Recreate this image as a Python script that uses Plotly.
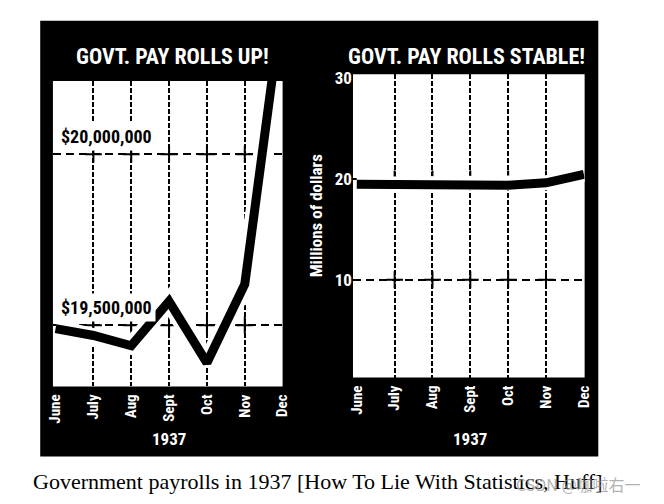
import plotly.graph_objects as go

# ---------------- data ----------------
months = ["June", "July", "Aug", "Sept", "Oct", "Nov", "Dec"]
payroll_millions = [19.49, 19.47, 19.44, 19.57, 19.39, 19.62, 20.45]
grid_months = ["July", "Aug", "Sept", "Oct", "Nov"]
left_ref_values = [19.5, 20.0]
left_ref_labels = ["$19,500,000", "$20,000,000"]
right_grid_values = [10, 20]
right_tick_values = [10, 20, 30]
year_label = "1937"
titles = ["GOVT. PAY ROLLS UP!", "GOVT. PAY ROLLS STABLE!"]
right_axis_title = "Millions of dollars"
caption = "Government payrolls in 1937 [How To Lie With Statistics, Huff]"
watermark = "CSDN @咖啦右一"

# ---------------- helpers ----------------
W, H = 664, 504
COND = ("Roboto Condensed, Noto Sans Condensed, Noto Sans ExtraCondensed, "
        "DejaVu Sans Condensed, Liberation Sans Narrow, Noto Sans, sans-serif")

def px(x):
    return x / W

def py(y):
    return 1 - y / H

def cfont(size, color="white"):
    return dict(family=COND, size=size, color=color, weight="bold")

x_idx = list(range(len(months)))
grid_idx = [months.index(m) for m in grid_months]

fig = go.Figure()

# small crosses where the dashed grid lines meet
for xa, ya, vals in [("x", "y", left_ref_values), ("x2", "y2", right_grid_values)]:
    cx = [g for v in vals for g in grid_idx]
    cy = [v for v in vals for g in grid_idx]
    fig.add_trace(go.Scatter(x=cx, y=cy, mode="markers", xaxis=xa, yaxis=ya,
                             marker=dict(symbol="cross-thin", size=12,
                                         line=dict(color="black", width=2)),
                             hoverinfo="skip", showlegend=False))

# left chart: white halo + thick black line
fig.add_trace(go.Scatter(x=x_idx, y=payroll_millions, mode="lines",
                         line=dict(color="white", width=18),
                         xaxis="x", yaxis="y", hoverinfo="skip", showlegend=False))
fig.add_trace(go.Scatter(x=x_idx, y=payroll_millions, mode="lines",
                         line=dict(color="black", width=9),
                         xaxis="x", yaxis="y", showlegend=False))
# right chart
fig.add_trace(go.Scatter(x=x_idx, y=payroll_millions, mode="lines",
                         line=dict(color="white", width=15),
                         xaxis="x2", yaxis="y2", hoverinfo="skip", showlegend=False))
fig.add_trace(go.Scatter(x=x_idx, y=payroll_millions, mode="lines",
                         line=dict(color="black", width=9),
                         xaxis="x2", yaxis="y2", showlegend=False))
# dummy traces for label (overlay) axes
fig.add_trace(go.Scatter(x=[None], y=[None], xaxis="x3", yaxis="y", showlegend=False, hoverinfo="skip"))
fig.add_trace(go.Scatter(x=[None], y=[None], xaxis="x4", yaxis="y2", showlegend=False, hoverinfo="skip"))
fig.add_trace(go.Scatter(x=[None], y=[None], xaxis="x2", yaxis="y4", showlegend=False, hoverinfo="skip"))

L_X = (48, 283)
L_Y = (76, 385)
R_X = (355, 592)
R_Y = (69, 376)
left_dom_x = [px(L_X[0]), px(L_X[1])]
left_dom_y = [py(L_Y[1]), py(L_Y[0])]
right_dom_x = [px(R_X[0]), px(R_X[1])]
right_dom_y = [py(R_Y[1]), py(R_Y[0])]

left_xrange = [-0.07, 6.0]
right_xrange = [-0.1, 6.02]
left_yrange = [19.321, 20.214]
right_yrange = [0.3, 30.4]

vgrid = dict(showgrid=True, gridcolor="black", gridwidth=2, griddash="5px,2px",
             zeroline=False, showline=False, showticklabels=False, ticks="")
hgrid = dict(showgrid=True, gridcolor="black", gridwidth=2, griddash="8px,5px",
             zeroline=False, showline=False, showticklabels=False, ticks="")

month_font = cfont(15)

fig.update_layout(
    width=W, height=H,
    margin=dict(l=0, r=0, t=0, b=0),
    paper_bgcolor="white",
    plot_bgcolor="rgba(0,0,0,0)",
    showlegend=False,
    xaxis=dict(domain=left_dom_x, anchor="y", range=left_xrange, tickvals=grid_idx, **vgrid),
    yaxis=dict(domain=left_dom_y, anchor="x", range=left_yrange, tickvals=left_ref_values, **hgrid),
    xaxis2=dict(domain=right_dom_x, anchor="y2", range=right_xrange, tickvals=grid_idx, **vgrid),
    yaxis2=dict(domain=right_dom_y, anchor="x2", range=right_yrange, tickvals=right_grid_values, **hgrid),
    xaxis3=dict(overlaying="x", anchor="y", side="bottom", range=left_xrange, type="linear",
                tickvals=x_idx, ticktext=months, tickangle=-90, tickfont=month_font,
                showgrid=False, zeroline=False, showline=False,
                ticks="outside", ticklen=1, tickcolor="black"),
    xaxis4=dict(overlaying="x2", anchor="y2", side="bottom", range=right_xrange, type="linear",
                tickvals=x_idx, ticktext=months, tickangle=-90, tickfont=month_font,
                showgrid=False, zeroline=False, showline=False,
                ticks="outside", ticklen=1, tickcolor="black"),
    yaxis4=dict(overlaying="y2", anchor="x2", side="left", range=right_yrange, type="linear",
                tickvals=right_tick_values, tickfont=cfont(17),
                showgrid=False, zeroline=False, showline=False, ticks=""),
)

# black panel, then white plotting areas
fig.add_shape(type="rect", xref="paper", yref="paper",
              x0=px(35), x1=px(606), y0=py(456), y1=py(15),
              fillcolor="black", line=dict(width=0), layer="below")
for (x0, x1), (y0, y1) in [(L_X, L_Y), (R_X, R_Y)]:
    fig.add_shape(type="rect", xref="paper", yref="paper",
                  x0=px(x0), x1=px(x1), y0=py(y1), y1=py(y0),
                  fillcolor="white", line=dict(width=0), layer="below")

ann = []
# titles
for t, cx in zip(titles, [170, 471]):
    ann.append(dict(text=t, xref="paper", yref="paper", x=px(cx), y=py(51),
                    xanchor="center", yanchor="middle", showarrow=False,
                    font=cfont(22)))
# reference labels on left chart
for v, lab in zip(left_ref_values, left_ref_labels):
    ann.append(dict(text=lab, xref="paper", yref="y", x=px(52), y=v,
                    xanchor="left", yanchor="bottom", yshift=3, showarrow=False,
                    bgcolor="white", borderpad=3,
                    font=cfont(18, "black")))
# right y-axis title
ann.append(dict(text=right_axis_title, xref="paper", yref="paper", x=px(318), y=py(212),
                xanchor="center", yanchor="middle", textangle=-90, showarrow=False,
                font=cfont(17)))
# year labels
for cx in [167, 475]:
    ann.append(dict(text=year_label, xref="paper", yref="paper", x=px(cx), y=py(438),
                    xanchor="center", yanchor="middle", showarrow=False,
                    font=cfont(17)))
# caption
ann.append(dict(text=caption, xref="paper", yref="paper", x=px(26), y=py(481),
                xanchor="left", yanchor="middle", showarrow=False,
                font=dict(family="Liberation Serif, DejaVu Serif, serif", size=22, color="black")))
# watermark
ann.append(dict(text=watermark, xref="paper", yref="paper", x=px(652), y=py(484),
                xanchor="right", yanchor="middle", showarrow=False,
                font=dict(family="Noto Sans CJK SC, sans-serif", size=16, color="rgba(150,150,150,0.75)")))
fig.update_layout(annotations=ann)

fig.write_html("out.html")
